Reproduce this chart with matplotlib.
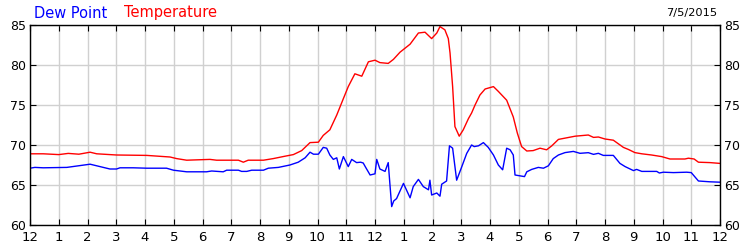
import matplotlib
matplotlib.use("Agg")
import matplotlib.pyplot as plt

# temperature (hours since midnight, degF)
temp_hours = [0, 0.46, 1.0, 1.33, 1.7, 2.09, 2.32, 3.01, 4.06, 4.87, 5.1, 5.45, 6.26, 6.49, 6.96,
              7.25, 7.42, 7.59, 8.12, 8.46, 8.87, 9.16, 9.45, 9.74, 10.03, 10.2, 10.43, 10.67,
              10.9, 11.07, 11.3, 11.54, 11.77, 12.0, 12.17, 12.46, 12.64, 12.87, 13.22, 13.51,
              13.74, 13.97, 14.15, 14.26, 14.43, 14.55, 14.61, 14.7, 14.78, 14.93, 15.07, 15.25,
              15.36, 15.48, 15.65, 15.83, 16.12, 16.29, 16.58, 16.81, 16.95, 17.1, 17.28, 17.5,
              17.74, 17.97, 18.15, 18.38, 18.67, 18.96, 19.42, 19.6, 19.77, 20.0, 20.29, 20.64,
              20.81, 21.04, 21.28, 21.62, 21.97, 22.26, 22.78, 22.9, 23.1, 23.25, 23.65, 24.0]
temp_vals = [68.9, 68.9, 68.8, 68.95, 68.85, 69.1, 68.9, 68.75, 68.7, 68.5, 68.3, 68.1, 68.2, 68.1, 68.1,
             68.1, 67.85, 68.1, 68.1, 68.3, 68.6, 68.8, 69.3, 70.3, 70.35, 71.2, 71.9, 73.75,
             75.8, 77.3, 78.9, 78.6, 80.4, 80.6, 80.3, 80.2, 80.7, 81.6, 82.6, 84.0,
             84.1, 83.3, 84.0, 84.8, 84.4, 83.3, 81.5, 77.3, 72.3, 71.1, 71.9, 73.3,
             74.0, 75.0, 76.25, 77.0, 77.3, 76.7, 75.6, 73.5, 71.5, 69.8, 69.25, 69.3,
             69.6, 69.4, 69.9, 70.7, 70.9, 71.1, 71.25, 70.95, 71.0, 70.75, 70.6, 69.7,
             69.45, 69.05, 68.9, 68.75, 68.55, 68.25, 68.25, 68.35, 68.25, 67.85, 67.8, 67.7]

# dew point
dew_hours = [0, 0.17, 0.46, 1.28, 2.09, 2.32, 2.78, 3.01, 3.13, 3.59, 4.06, 4.75, 4.99, 5.45,
             6.14, 6.32, 6.72, 6.84, 7.25, 7.36, 7.54, 7.71, 8.12, 8.29, 8.64, 9.04, 9.33,
             9.57, 9.74, 9.86, 10.03, 10.2, 10.32, 10.43, 10.55, 10.67, 10.76, 10.9, 11.07,
             11.19, 11.36, 11.5, 11.59, 11.66, 11.83, 12.0, 12.06, 12.17, 12.35, 12.46, 12.58,
             12.65, 12.75, 12.99, 13.22, 13.33, 13.51, 13.68, 13.86, 13.91, 13.97, 14.15, 14.26,
             14.32, 14.49, 14.59, 14.7, 14.84, 15.02, 15.19, 15.36, 15.45, 15.6, 15.77, 15.94,
             16.12, 16.29, 16.44, 16.58, 16.7, 16.81, 16.87, 17.2, 17.28, 17.45, 17.68, 17.86,
             18.03, 18.2, 18.38, 18.61, 18.9, 19.13, 19.42, 19.6, 19.77, 19.94, 20.29, 20.52,
             20.7, 20.99, 21.1, 21.28, 21.8, 21.89, 22.03, 22.38, 22.84, 23.0, 23.25, 23.65, 24.0]
dew_vals = [67.1, 67.2, 67.15, 67.2, 67.6, 67.4, 67.0, 67.0, 67.15, 67.15, 67.1, 67.1, 66.85, 66.65,
            66.65, 66.75, 66.65, 66.85, 66.85, 66.7, 66.7, 66.85, 66.85, 67.1, 67.2, 67.5, 67.85,
            68.4, 69.1, 68.85, 68.85, 69.7, 69.6, 68.75, 68.2, 68.4, 67.0, 68.55, 67.3,
            68.2, 67.8, 67.85, 67.75, 67.3, 66.25, 66.4, 68.2, 67.0, 66.7, 67.8, 62.3,
            63.0, 63.3, 65.2, 63.4, 64.8, 65.7, 64.8, 64.4, 65.6, 63.75, 64.0, 63.6,
            65.1, 65.5, 69.9, 69.6, 65.6, 67.3, 68.95, 70.0, 69.8, 69.9, 70.3, 69.7,
            68.75, 67.5, 66.9, 69.6, 69.4, 68.75, 66.25, 66.05, 66.65, 66.95, 67.2, 67.1,
            67.4, 68.3, 68.75, 69.05, 69.2, 68.96, 69.04, 68.83, 68.96, 68.7, 68.7, 67.7,
            67.3, 66.8, 66.95, 66.7, 66.7, 66.5, 66.6, 66.55, 66.6, 66.55, 65.5, 65.4, 65.35]

hour_labels = ["12", "1", "2", "3", "4", "5", "6", "7", "8", "9", "10", "11",
               "12", "1", "2", "3", "4", "5", "6", "7", "8", "9", "10", "11", "12"]
y_ticks = [60, 65, 70, 75, 80, 85]

fig = plt.figure(figsize=(7.5, 2.5), dpi=100)
ax = fig.add_axes([0.04, 0.1, 0.92, 0.8])

ax.plot(temp_hours, temp_vals, color="#ff0000", lw=1.0)
ax.plot(dew_hours, dew_vals, color="#0000ff", lw=1.0)

ax.set_xlim(0, 24)
ax.set_ylim(60, 85)
ax.set_xticks(range(25))
ax.set_xticklabels(hour_labels, fontsize=9.5)
ax.set_yticks(y_ticks)
ax.set_yticklabels([str(v) for v in y_ticks], fontsize=9)
ax.tick_params(axis="x", direction="in", length=4, top=True, bottom=True, pad=4, color="black")
ax.tick_params(axis="y", direction="in", length=4, left=True, right=True,
               labelleft=True, labelright=True, pad=3, color="black")
ax.grid(True, color="#d0d0d0", lw=1.0)
ax.set_axisbelow(True)
for s in ax.spines.values():
    s.set_color("black")
    s.set_linewidth(1.0)

fig.text(34 / 750, 1 - 13 / 250, "Dew Point", color="#0000ff", fontsize=10.5, va="center", ha="left")
fig.text(124 / 750, 1 - 13 / 250, "Temperature", color="#ff0000", fontsize=10.5, va="center", ha="left")
fig.text(717 / 750, 1 - 13 / 250, "7/5/2015", color="black", fontsize=8.2, va="center", ha="right")

fig.savefig("out.png", dpi=100)
